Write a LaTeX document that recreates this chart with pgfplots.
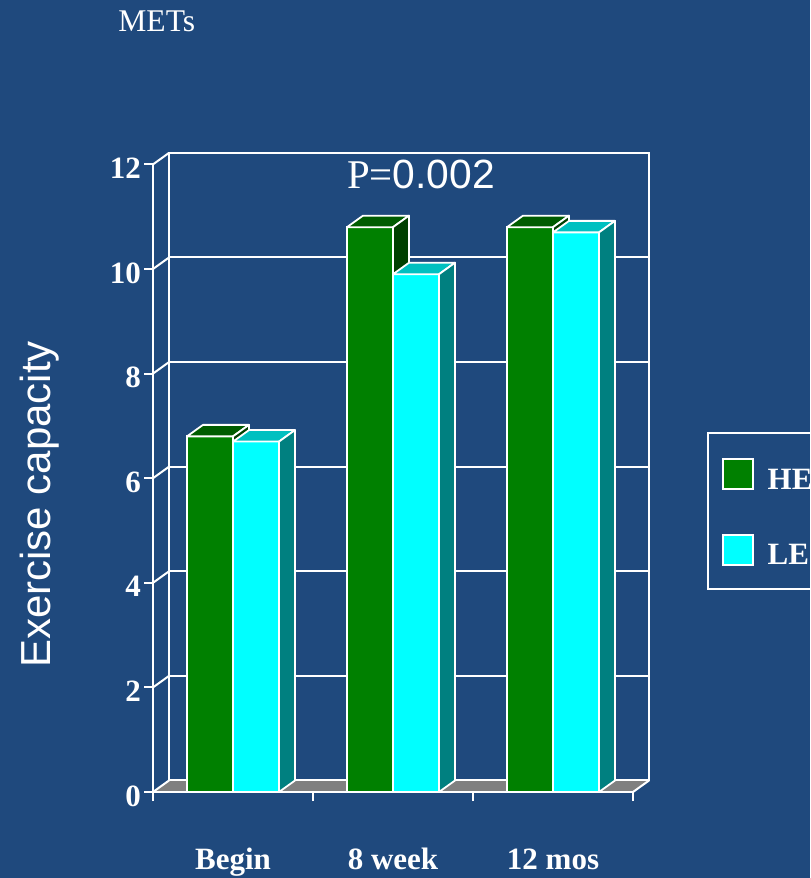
\documentclass[border=0pt]{standalone}
\usepackage{fontspec}
\setmainfont{Liberation Serif}
\newfontfamily\arialfont{Liberation Sans}
\usepackage{pgfplots}
\usepackage{pgfplotstable}
\pgfplotsset{compat=1.18}

\definecolor{slide}{HTML}{1F497D}
\definecolor{heFront}{HTML}{008000}
\definecolor{heTop}{HTML}{005C00}
\definecolor{heSide}{HTML}{004000}
\definecolor{leFront}{HTML}{00FFFF}
\definecolor{leTop}{HTML}{00C0C0}
\definecolor{leSide}{HTML}{008080}
\definecolor{floorgray}{HTML}{808080}

% Exercise capacity (METs) at each visit
\pgfplotstableread{
x  he    le
0  6.8   6.7
1  10.8  9.9
2  10.8  10.7
}\metsdata

% pt per MET on the y axis
\def\yunit{26.15}

% top and right faces of a block; \barh is the block height in pt
\pgfdeclareplotmark{heblock}{%
  \filldraw[fill=heTop, draw=white, line width=0.9pt, line join=round]
    (-23pt,0pt) -- (-15pt,5.75pt) -- (8pt,5.75pt) -- (0pt,0pt) -- cycle;
  \filldraw[fill=heSide, draw=white, line width=0.9pt, line join=round]
    (0pt,0pt) -- (8pt,5.75pt) -- (8pt,5.75pt-1pt*\barh) -- (0pt,-1pt*\barh) -- cycle;
}
\pgfdeclareplotmark{leblock}{%
  \filldraw[fill=leTop, draw=white, line width=0.9pt, line join=round]
    (0pt,0pt) -- (8pt,5.75pt) -- (31pt,5.75pt) -- (23pt,0pt) -- cycle;
  \filldraw[fill=leSide, draw=white, line width=0.9pt, line join=round]
    (23pt,0pt) -- (31pt,5.75pt) -- (31pt,5.75pt-1pt*\barh) -- (23pt,-1pt*\barh) -- cycle;
}

\begin{document}
\begin{tikzpicture}
\useasboundingbox (0,0) rectangle (405pt,439pt);
\clip (0,0) rectangle (405pt,439pt);
\fill[slide] (0,0) rectangle (405pt,439pt);

% floor of the box
\fill[floorgray] (76.5pt,43pt) -- (316.5pt,43pt) -- (324.5pt,48.75pt) -- (84.5pt,48.75pt) -- cycle;

% back wall with its grid
\begin{axis}[
  at={(84.5pt,48.75pt)}, anchor=south west,
  x=80pt, y=26.15pt,
  xmin=-0.5, xmax=2.5, ymin=0, ymax=12,
  xtick=\empty, ytick={2,4,...,10}, yticklabels={},
  major tick length=0pt,
  ymajorgrids, grid style={white, line width=1pt},
  axis line style={white, line width=1pt},
]
\end{axis}

% front: axes, bars, legend
\begin{axis}[
  at={(76.5pt,43pt)}, anchor=south west,
  x=80pt, y=26.15pt,
  xmin=-0.5, xmax=2.5, ymin=0, ymax=12,
  clip=false, clip mode=individual,
  axis lines*=left,
  axis line style={white, line width=1pt, -},
  tick align=outside,
  major tick length=4.5pt,
  tick style={white, line width=1pt},
  xtick={-0.5,0.5,1.5,2.5}, xticklabels={},
  extra x ticks={0,1,2},
  extra x tick labels={Begin,8 week,12 mos},
  extra x tick style={major tick length=0pt,
    xticklabel style={anchor=base, yshift=-38.5pt}},
  ytick={0,2,...,12},
  /pgf/number format/assume math mode=true,
  ticklabel style={text=white, font=\bfseries\fontsize{15.5}{18}\selectfont},
  yticklabel style={anchor=east, xshift=2pt, yshift=-2pt},
  legend cell align=left,
  legend style={
    at={(1.154,0.5736)}, anchor=north west,
    draw=white, line width=1pt, fill=none,
    text=white, font=\bfseries\fontsize{15.5}{18}\selectfont,
    inner xsep=7pt, inner ysep=5pt, row sep=18.9pt,
    /tikz/every odd column/.append style={column sep=5pt},
  },
]
% side wall and floor edges
\pgfplotsinvokeforeach{0,2,...,12}{
  \draw[white, line width=1pt] (axis cs:-0.5,#1) -- ++(8pt,5.75pt);
}
\draw[white, line width=1pt] (axis cs:2.5,0) -- ++(8pt,5.75pt);

% HE
\addplot[ybar, bar width=23pt, bar shift=-11.5pt, fill=heFront, draw=white,
  line width=0.9pt, forget plot] table[x=x, y=he] {\metsdata};
\addplot[scatter, only marks, mark=heblock, forget plot,
  scatter/@pre marker code/.code={\pgfscope},
  scatter/@post marker code/.code={\endpgfscope},
  visualization depends on={\thisrow{he}*\yunit \as \barh}]
  table[x=x, y=he] {\metsdata};
% LE
\addplot[ybar, bar width=23pt, bar shift=11.5pt, fill=leFront, draw=white,
  line width=0.9pt, forget plot] table[x=x, y=le] {\metsdata};
\addplot[scatter, only marks, mark=leblock, forget plot,
  scatter/@pre marker code/.code={\pgfscope},
  scatter/@post marker code/.code={\endpgfscope},
  visualization depends on={\thisrow{le}*\yunit \as \barh}]
  table[x=x, y=le] {\metsdata};

\addlegendimage{legend image code/.code={
  \path (0pt,18.25pt);
  \filldraw[fill=heFront, draw=white, line width=0.8pt] (0pt,-4.25pt) rectangle (15pt,10.75pt);}}
\addlegendentry{HE\hspace*{30pt}}
\addlegendimage{legend image code/.code={
  \path (0pt,-10.8pt);
  \filldraw[fill=leFront, draw=white, line width=0.8pt] (0pt,-4.25pt) rectangle (15pt,10.75pt);}}
\addlegendentry{LE\hspace*{30pt}}
\end{axis}

\node[anchor=base west, inner sep=0pt, text=white, font=\fontsize{15.8}{19}\selectfont]
  at (59pt,423pt) {METs};
\node[anchor=base, text=white, font=\fontsize{20.4}{24}\selectfont]
  at (210.5pt,344.5pt) {P=\arialfont 0.002};
\node[anchor=base, rotate=90, inner sep=0pt, text=white, font=\arialfont\fontsize{21}{25}\selectfont]
  at (25pt,186.75pt) {Exercise capacity};
\end{tikzpicture}
\end{document}
